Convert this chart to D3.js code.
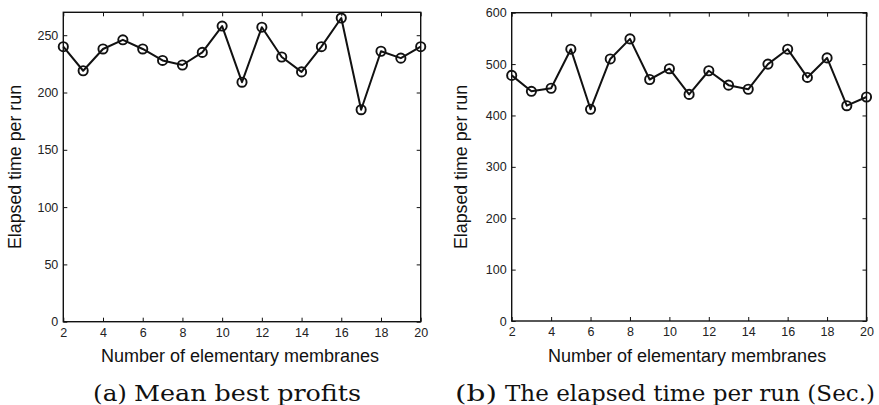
<!DOCTYPE html>
<html>
<head>
<meta charset="utf-8">
<script src="https://cdn.jsdelivr.net/npm/d3@7"></script>
<style>
  html, body { margin: 0; padding: 0; background: #fff; }
  svg { display: block; }
</style>
</head>
<body>
<svg id="chart" width="879" height="405"></svg>
<script>
// ---- data ----
const membranes = [2,3,4,5,6,7,8,9,10,11,12,13,14,15,16,17,18,19,20];
const meanBestProfits = [240,219,238,246,238,228,224,235,258,209,257,231,218,240,265,185,236,230,240];
const elapsedTime = [478,447,453,529,412,510,549,470,491,441,487,459,451,500,529,474,512,419,436];
const xTicks = [2,4,6,8,10,12,14,16,18,20];
const yTicksA = [0,50,100,150,200,250];
const yTicksB = [0,100,200,300,400,500,600];
const xTitle = "Number of elementary membranes";
const yTitle = "Elapsed time per run";
const subLabels = ["(a)", "(b)"];
const subTitles = ["Mean best profits", "The elapsed time per run (Sec.)"];

const svg = d3.select("#chart");

function panel(cfg) {
  const x = d3.scaleLinear().domain([2, 20]).range([cfg.left, cfg.right]);
  const y = d3.scaleLinear().domain(cfg.yDomain).range([cfg.bottom, cfg.top]);
  const g = svg.append("g");

  const tickFont = "Liberation Sans, Arial, sans-serif";

  // frame
  g.append("rect")
    .attr("x", cfg.left).attr("y", cfg.top)
    .attr("width", cfg.right - cfg.left).attr("height", cfg.bottom - cfg.top)
    .attr("fill", "none").attr("stroke", "#111").attr("stroke-width", 1.4);

  const styleAxis = sel => {
    sel.select(".domain").remove();
    sel.selectAll(".tick line").attr("stroke", "#111").attr("stroke-width", 1);
    sel.selectAll(".tick text").attr("fill", "#222")
      .style("font-family", tickFont).style("font-size", "12.5px");
  };

  g.append("g").attr("transform", `translate(0,${cfg.bottom})`)
    .call(d3.axisBottom(x).tickValues(xTicks).tickSize(-4).tickPadding(6).tickFormat(d3.format("d")))
    .call(styleAxis);
  g.append("g").attr("transform", `translate(0,${cfg.top})`)
    .call(d3.axisTop(x).tickValues(xTicks).tickSize(-4).tickFormat(""))
    .call(styleAxis);
  g.append("g").attr("transform", `translate(${cfg.left},0)`)
    .call(d3.axisLeft(y).tickValues(cfg.yTicks).tickSize(-4).tickPadding(5).tickFormat(d3.format("d")))
    .call(styleAxis);
  g.append("g").attr("transform", `translate(${cfg.right},0)`)
    .call(d3.axisRight(y).tickValues(cfg.yTicks).tickSize(-4).tickFormat(""))
    .call(styleAxis);

  // line
  const line = d3.line().x((d, i) => x(membranes[i])).y(d => y(d));
  g.append("path").datum(cfg.values)
    .attr("d", line).attr("fill", "none")
    .attr("stroke", "#111").attr("stroke-width", 2).attr("stroke-linejoin", "round");

  g.selectAll("circle.pt").data(cfg.values).enter().append("circle")
    .attr("class", "pt")
    .attr("cx", (d, i) => x(membranes[i])).attr("cy", d => y(d))
    .attr("r", 4.6).attr("fill", "none")
    .attr("stroke", "#111").attr("stroke-width", 1.9);

  // axis titles
  g.append("text")
    .attr("x", (cfg.left + cfg.right) / 2 - 2).attr("y", 362)
    .attr("text-anchor", "middle")
    .style("font-family", tickFont).style("font-size", "18px").attr("fill", "#111")
    .text(xTitle);
  g.append("text")
    .attr("transform", `translate(${cfg.yTitleX},167) rotate(-90)`)
    .attr("text-anchor", "middle")
    .style("font-family", tickFont).style("font-size", "17.8px").attr("fill", "#111")
    .text(yTitle);

  // caption
  g.append("text")
    .attr("x", cfg.capLabelX).attr("y", 401)
    .style("font-family", "DejaVu Serif, serif").style("font-size", "22px").attr("fill", "#111")
    .attr("textLength", cfg.capLabelW).attr("lengthAdjust", "spacingAndGlyphs")
    .text(cfg.subLabel);
  g.append("text")
    .attr("x", cfg.capTitleX).attr("y", 401)
    .style("font-family", "DejaVu Serif, serif").style("font-size", "22px").attr("fill", "#111")
    .attr("textLength", cfg.capTitleW).attr("lengthAdjust", "spacingAndGlyphs")
    .text(cfg.subTitle);
}

panel({
  left: 63.3, right: 420.7, top: 12.3, bottom: 321.7,
  yDomain: [0, 270], yTicks: yTicksA, values: meanBestProfits,
  yTitleX: 20.5,
  subLabel: subLabels[0], subTitle: subTitles[0],
  capLabelX: 93, capLabelW: 34, capTitleX: 134, capTitleW: 227
});
panel({
  left: 511.7, right: 866.5, top: 12.7, bottom: 321,
  yDomain: [0, 600], yTicks: yTicksB, values: elapsedTime,
  yTitleX: 467,
  subLabel: subLabels[1], subTitle: subTitles[1],
  capLabelX: 455, capLabelW: 42, capTitleX: 505, capTitleW: 370
});
</script>
</body>
</html>
